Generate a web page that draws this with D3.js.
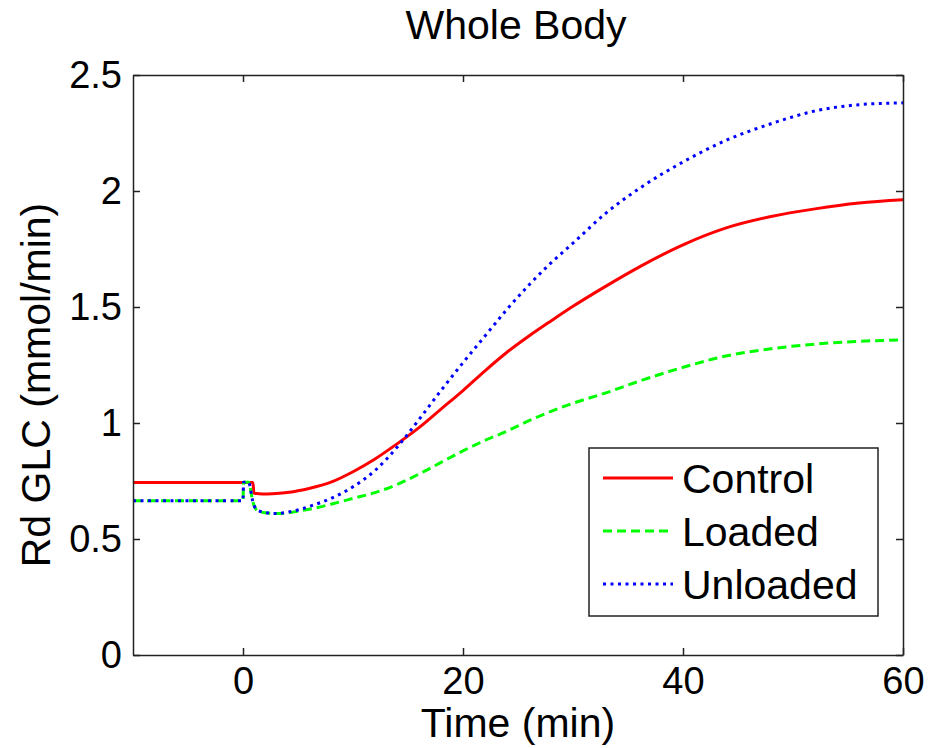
<!DOCTYPE html>
<html>
<head>
	<script src="https://cdn.jsdelivr.net/npm/d3@7"></script>
	<style>
		html, body {
			padding: 0;
			margin: 0;
			background: white;
		}
		text {
			font-family: "Liberation Sans", Arial, sans-serif;
			fill: black;
		}
	</style>
</head>
<body>
	<script>
		// ~ ~ ~ DATA ~ ~ ~
		const TIMES = [-10, 0, 0.05, 0.5, 0.9, 1.0, 1.3, 1.5, 2, 3, 4, 5, 6, 8, 10, 12, 14, 16, 18, 20,
			22, 24, 26, 28, 30, 33, 36, 40, 44, 48, 52, 56, 60];
		const CONTROL = [0.743, 0.743, 0.743, 0.743, 0.743, 0.697, 0.696, 0.695, 0.694, 0.696, 0.700, 0.708, 0.718,
			0.745, 0.79, 0.845, 0.91, 0.98, 1.06, 1.14, 1.225, 1.305, 1.375, 1.44, 1.503, 1.59, 1.672, 1.768,
			1.842, 1.89, 1.923, 1.948, 1.962];
		const LOADED = [0.665, 0.665, 0.745, 0.745, 0.66, 0.645, 0.622, 0.618, 0.613, 0.61, 0.612, 0.62, 0.628,
			0.65, 0.675, 0.70, 0.735, 0.78, 0.83, 0.88, 0.925, 0.965, 1.01, 1.05, 1.085, 1.13, 1.18, 1.24,
			1.29, 1.32, 1.34, 1.352, 1.358];
		const UNLOADED = [0.665, 0.665, 0.745, 0.745, 0.66, 0.645, 0.625, 0.62, 0.614, 0.61, 0.615, 0.625, 0.64,
			0.675, 0.725, 0.795, 0.895, 1.015, 1.14, 1.26, 1.375, 1.49, 1.595, 1.69, 1.775, 1.905, 2.01, 2.125,
			2.22, 2.29, 2.345, 2.372, 2.38];
		const SERIES_NAMES = ["Control", "Loaded", "Unloaded"];
		const X_TICKS = [0, 20, 40, 60];
		const Y_TICKS = [0, 0.5, 1, 1.5, 2, 2.5];

		// ~ ~ ~ LAYOUT ~ ~ ~
		const W = 930, H = 748;
		const M = { left: 133, right: 903, top: 75, bottom: 655 };
		const TICK_FONT = 38;
		const LABEL_FONT = 41;

		var svg = d3.select("body").append("svg")
			.attr("width", W)
			.attr("height", H);

		var x = d3.scaleLinear().domain([-10, 60]).range([M.left, M.right]);
		var y = d3.scaleLinear().domain([0, 2.5]).range([M.bottom, M.top]);

		var styles = [
			{ color: "#ff0000", dash: null },
			{ color: "#00ff00", dash: "9,5" },
			{ color: "#0000ff", dash: "3,4.5" }
		];
		var seriesData = [CONTROL, LOADED, UNLOADED];

		var line = d3.line()
			.x((d, i) => x(TIMES[i]))
			.y(d => y(d))
			.curve(d3.curveMonotoneX);

		var plot = svg.append("g");
		seriesData.forEach(function(vals, i) {
			plot.append("path")
				.attr("d", line(vals))
				.attr("fill", "none")
				.attr("stroke", styles[i].color)
				.attr("stroke-width", 3)
				.attr("stroke-dasharray", styles[i].dash);
		});

		// box + inward ticks (matlab style)
		var fmt = d => d3.format("")(d);
		svg.append("g")
			.attr("transform", "translate(0," + M.bottom + ")")
			.call(d3.axisBottom(x).tickValues(X_TICKS).tickSizeInner(-7).tickSizeOuter(0).tickPadding(12).tickFormat(fmt));
		svg.append("g")
			.attr("transform", "translate(0," + M.top + ")")
			.call(d3.axisTop(x).tickValues(X_TICKS).tickSizeInner(-7).tickSizeOuter(0).tickFormat(""));
		svg.append("g")
			.attr("transform", "translate(" + M.left + ",0)")
			.call(d3.axisLeft(y).tickValues(Y_TICKS).tickSizeInner(-7).tickSizeOuter(0).tickPadding(11).tickFormat(fmt));
		svg.append("g")
			.attr("transform", "translate(" + M.right + ",0)")
			.call(d3.axisRight(y).tickValues(Y_TICKS).tickSizeInner(-7).tickSizeOuter(0).tickFormat(""));

		svg.selectAll(".domain").attr("stroke", "#222").attr("stroke-width", 1.5);
		svg.selectAll(".tick line").attr("stroke", "#222").attr("stroke-width", 1.5);
		svg.selectAll(".tick text")
			.style("font-family", "'Liberation Sans', Arial, sans-serif")
			.style("font-size", TICK_FONT + "px")
			.attr("fill", "black");

		// titles
		svg.append("text")
			.attr("x", 516)
			.attr("y", 39)
			.attr("text-anchor", "middle")
			.style("font-size", LABEL_FONT + "px")
			.text("Whole Body");
		svg.append("text")
			.attr("x", 518)
			.attr("y", 737)
			.attr("text-anchor", "middle")
			.style("font-size", LABEL_FONT + "px")
			.text("Time (min)");
		svg.append("text")
			.attr("transform", "translate(50,385) rotate(-90)")
			.attr("text-anchor", "middle")
			.style("font-size", LABEL_FONT + "px")
			.text("Rd GLC (mmol/min)");

		// legend
		var lg = svg.append("g").attr("transform", "translate(589,448)");
		lg.append("rect")
			.attr("width", 289)
			.attr("height", 168)
			.attr("fill", "white")
			.attr("stroke", "#222")
			.attr("stroke-width", 1.5);
		SERIES_NAMES.forEach(function(name, i) {
			var ly = 30 + i * 53;
			lg.append("line")
				.attr("x1", 14).attr("x2", 84)
				.attr("y1", ly).attr("y2", ly)
				.attr("stroke", styles[i].color)
				.attr("stroke-width", 3)
				.attr("stroke-dasharray", styles[i].dash);
			lg.append("text")
				.attr("x", 93)
				.attr("y", ly + 15)
				.style("font-size", LABEL_FONT + "px")
				.text(name);
		});
	</script>
</body>
</html>
